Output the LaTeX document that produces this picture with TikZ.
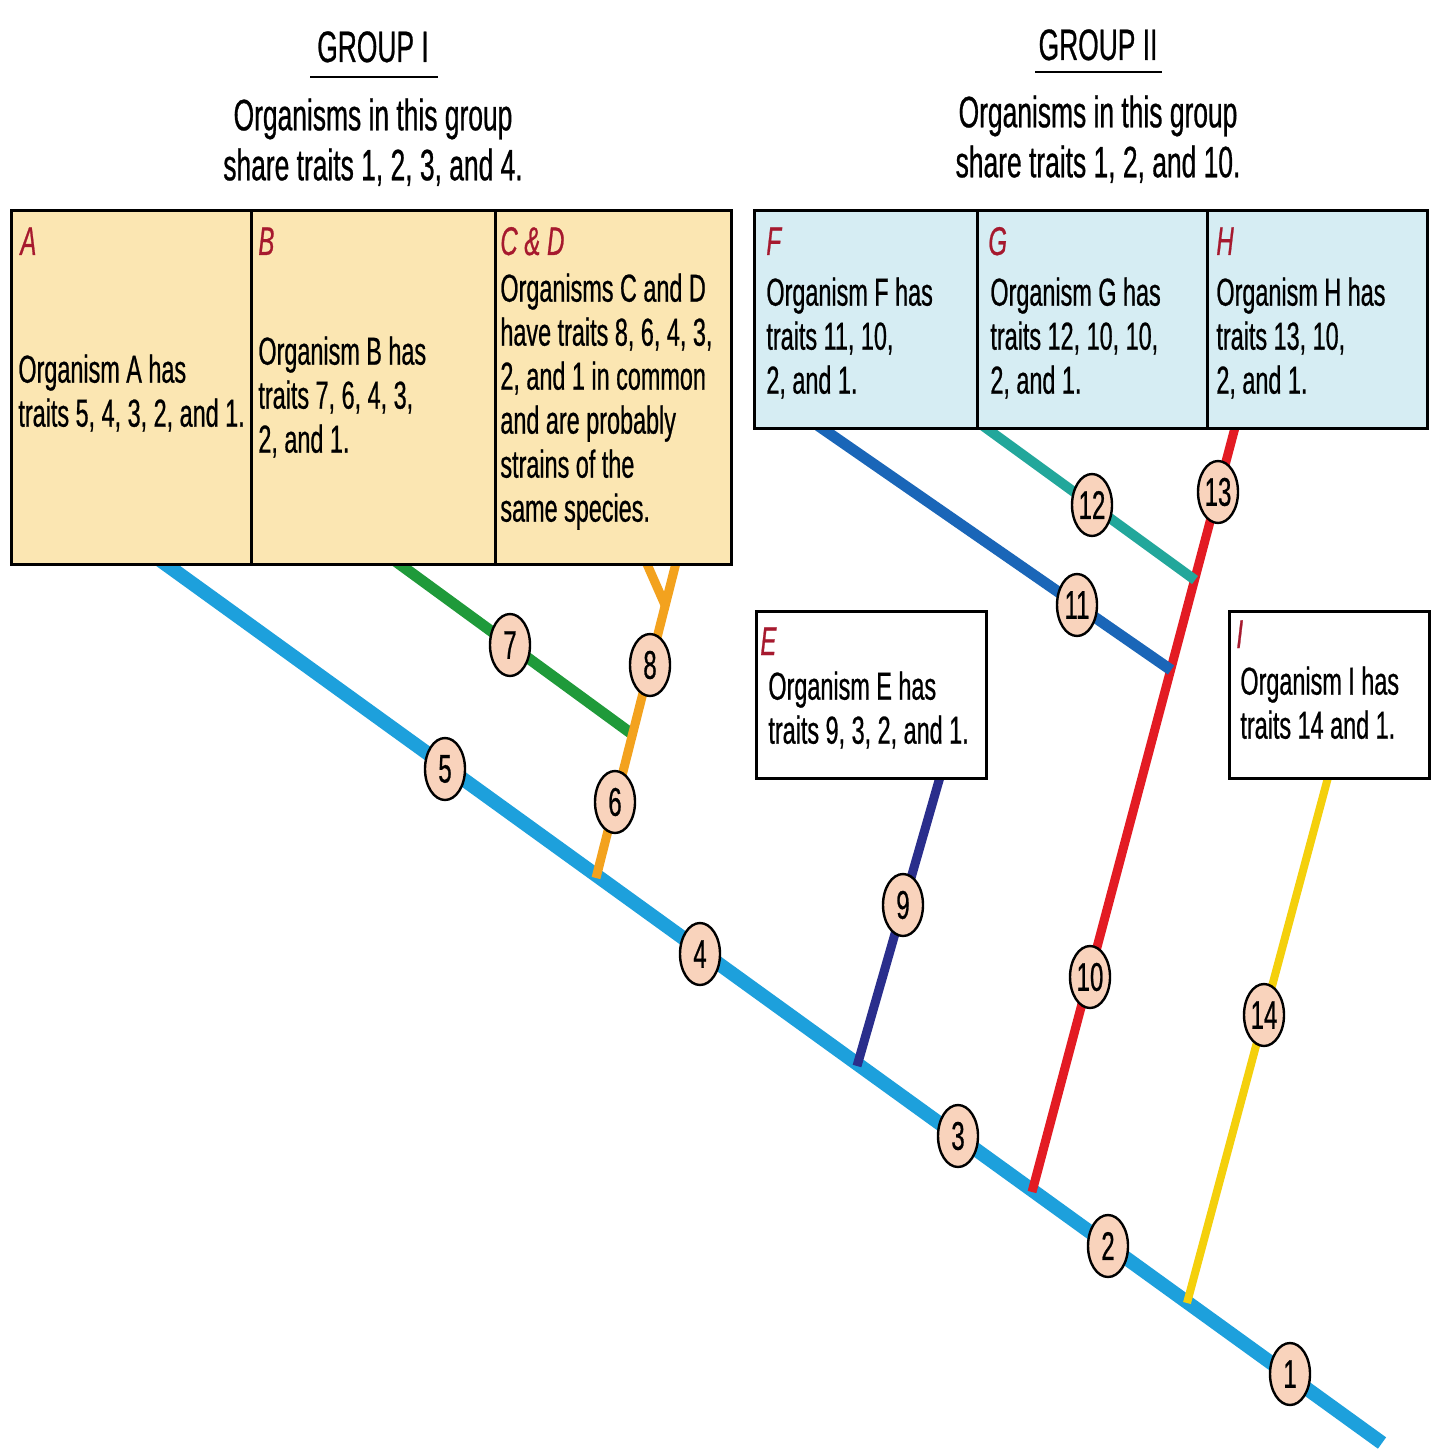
\documentclass[tikz,border=0pt]{standalone}
\usepackage{fontspec}
\setmainfont{Liberation Sans}[FakeStretch=0.6,FakeBold=0.6]
\usetikzlibrary{shapes.geometric}
\pgfdeclarelayer{bg}
\pgfdeclarelayer{paper}
\pgfsetlayers{paper,bg,main}
\definecolor{mainblue}{HTML}{1DA0DC}
\definecolor{brgreen}{HTML}{1F9A3A}
\definecolor{brorange}{HTML}{F3A21E}
\definecolor{brnavy}{HTML}{2A2E8C}
\definecolor{brred}{HTML}{E31B23}
\definecolor{brblue}{HTML}{1A66B8}
\definecolor{brteal}{HTML}{22A79B}
\definecolor{bryellow}{HTML}{F4D00C}
\definecolor{boxyellow}{HTML}{FBE6B2}
\definecolor{boxblue}{HTML}{D6EDF3}
\definecolor{labred}{HTML}{A6192E}
\definecolor{peach}{HTML}{F9D3BC}
\begin{document}
\begin{tikzpicture}[x=0.5pt,y=-0.5pt,
  yellowcell/.style={rectangle, draw=black, line width=1.3pt, fill=boxyellow, inner sep=0pt, anchor=north west},
  bluecell/.style={rectangle, draw=black, line width=1.3pt, fill=boxblue, inner sep=0pt, anchor=north west},
  whitecell/.style={rectangle, draw=black, line width=1.3pt, fill=white, inner sep=0pt, anchor=north west},
  trait/.style={ellipse, draw=black, line width=1.2pt, fill=peach, minimum width=20pt, minimum height=31pt, inner sep=0pt, font=\fontsize{20}{20}\selectfont},
  txt/.style={anchor=north west, align=left, inner sep=0pt, font=\fontsize{19.5}{22}\selectfont},
  lab/.style={anchor=base west, inner sep=0pt, text=labred, font=\fontsize{20}{22}\selectfont\itshape},
  ttl/.style={anchor=base, inner sep=0pt, font=\fontsize{22}{25}\selectfont},
  desc/.style={anchor=north, align=center, inner sep=0pt, font=\fontsize{22}{25}\selectfont},
  branch/.style={line cap=butt}
]
\begin{pgfonlayer}{paper}
\fill[white] (0,0) rectangle (1442,1449);
\end{pgfonlayer}
\useasboundingbox (0,0) rectangle (1442,1449);

% titles
\node[ttl] (g1) at (373,62) {GROUP I};
\draw[line width=1.25pt] (310,77) -- (438,77);
\node[desc] (d1) at (373,98) {Organisms in this group\\share traits 1, 2, 3, and 4.};
\node[ttl] (g2) at (1098,60) {GROUP II};
\draw[line width=1.25pt] (1035,72) -- (1162,72);
\node[desc] (d2) at (1098,95) {Organisms in this group\\share traits 1, 2, and 10.};

% boxes
\node[yellowcell, minimum width=120pt, minimum height=177pt] (cellA) at (10,209) {};
\node[yellowcell, minimum width=122pt, minimum height=177pt] (cellB) at (250,209) {};
\node[yellowcell, minimum width=118pt, minimum height=177pt] (cellCD) at (494,209) {};
\node[bluecell, minimum width=111.5pt, minimum height=109pt] (cellF) at (753,209) {};
\node[bluecell, minimum width=115pt, minimum height=109pt] (cellG) at (976,209) {};
\node[bluecell, minimum width=110pt, minimum height=109pt] (cellH) at (1206,209) {};
\node[whitecell, minimum width=115pt, minimum height=83.5pt] (boxE) at (755,610) {};
\node[whitecell, minimum width=100pt, minimum height=83.5pt] (boxI) at (1228,610) {};

% labels and texts
\node[lab] (lA) at (20,255) {A};
\node[txt] (tA) at (18,354) {Organism A has\\traits 5, 4, 3, 2, and 1.};
\node[lab] (lB) at (258,255) {B};
\node[txt] (tB) at (258,336) {Organism B has\\traits 7, 6, 4, 3,\\2, and 1.};
\node[lab] (lCD) at (500,255) {C \& D};
\node[txt] (tCD) at (500,273) {Organisms C and D\\have traits 8, 6, 4, 3,\\2, and 1 in common\\and are probably\\strains of the\\same species.};
\node[lab] (lF) at (766,255) {F};
\node[txt] (tF) at (766,277) {Organism F has\\traits 11, 10,\\2, and 1.};
\node[lab] (lG) at (988,255) {G};
\node[txt] (tG) at (990,277) {Organism G has\\traits 12, 10, 10,\\2, and 1.};
\node[lab] (lH) at (1216,255) {H};
\node[txt] (tH) at (1216,277) {Organism H has\\traits 13, 10,\\2, and 1.};
\node[lab] (lE) at (760,655) {E};
\node[txt] (tE) at (768,671) {Organism E has\\traits 9, 3, 2, and 1.};
\node[lab] (lI) at (1236,648) {I};
\node[txt] (tI) at (1240,666) {Organism I has\\traits 14 and 1.};

% coordinates
\coordinate (m0) at (153,555);
\coordinate (m1) at (1382,1443);
\coordinate (jO) at (596,878);
\coordinate (jE) at (857,1066);
\coordinate (jR) at (1032,1192);
\coordinate (jY) at (1187,1303);
\coordinate (gTop) at (387,555);
\coordinate (gJ) at (632,734);
\coordinate (oTop) at (678,555);
\coordinate (oFork) at (665,605);
\coordinate (oLeft) at (643,555);
\coordinate (nTop) at (942,770);
\coordinate (rTop) at (1237,420);
\coordinate (fTop) at (810,420);
\coordinate (jF) at (1171,670);
\coordinate (tTop) at (975,420);
\coordinate (jG) at (1195,580);
\coordinate (yTop) at (1330,770);

% branches
\begin{pgfonlayer}{bg}
\draw[branch, line width=7pt, mainblue] (m0) -- (m1);
\draw[branch, line width=5.5pt, brgreen] (gTop) -- (gJ);
\draw[branch, line width=4.5pt, brorange] (jO) -- (oTop);
\draw[branch, line width=4.5pt, brorange] (oFork) -- (oLeft);
\draw[branch, line width=4.5pt, brnavy] (jE) -- (nTop);
\draw[branch, line width=4.5pt, brred] (jR) -- (rTop);
\draw[branch, line width=5.5pt, brblue] (fTop) -- (jF);
\draw[branch, line width=5pt, brteal] (tTop) -- (jG);
\draw[branch, line width=4pt, bryellow] (jY) -- (yTop);
\end{pgfonlayer}

% trait markers
\node[trait] (c1) at (1290,1374) {1};
\node[trait] (c2) at (1108,1246) {2};
\node[trait] (c3) at (958,1136) {3};
\node[trait] (c4) at (700,954) {4};
\node[trait] (c5) at (445,769) {5};
\node[trait] (c6) at (615,802) {6};
\node[trait] (c7) at (510,645) {7};
\node[trait] (c8) at (650,665) {8};
\node[trait] (c9) at (903,905) {9};
\node[trait] (c10) at (1090,977) {10};
\node[trait] (c11) at (1077,605) {11};
\node[trait] (c12) at (1092,505) {12};
\node[trait] (c13) at (1218,492) {13};
\node[trait] (c14) at (1264,1015) {14};
\end{tikzpicture}
\end{document}
